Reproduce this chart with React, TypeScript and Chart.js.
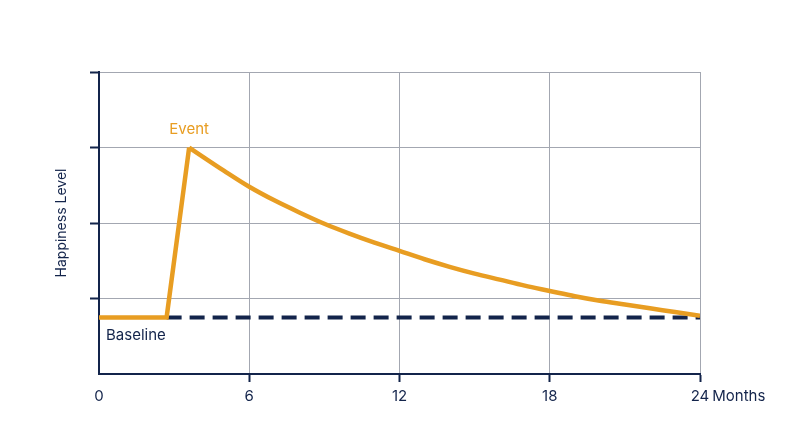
import React, { useEffect, useRef } from 'react';
import { Chart, registerables, Plugin } from 'chart.js';

Chart.register(...registerables);

// Happiness over time after an event
const riseMonths = [0, 2.7, 3.6];
const riseHappiness = [0.75, 0.75, 3.0];

const decayMonths = [3.6, 4, 5, 6, 7, 8, 9, 10, 11, 12, 13, 14, 15, 16, 17, 18, 19, 20, 21, 22, 23, 24];
const decayHappiness = [
  3.0, 2.91, 2.69, 2.48, 2.3, 2.14, 1.99, 1.86, 1.74, 1.63, 1.52, 1.42, 1.33, 1.25, 1.17, 1.1, 1.03,
  0.97, 0.92, 0.87, 0.82, 0.77,
];

const baselineMonths = [2.7, 24];
const baselineHappiness = [0.75, 0.75];

const xTicks = [0, 6, 12, 18, 24];
const xUnit = 'Months';
const yTitle = 'Happiness Level';
const eventLabel = 'Event';
const baselineLabel = 'Baseline';

const ORANGE = '#E89D22';
const NAVY = '#13244B';
const GRID = '#A3A7B1';
const FONT = 'Inter, "Noto Sans", sans-serif';

// labels "Event", "Baseline" and the "Months" unit after the last x tick
const labelsPlugin: Plugin<'line'> = {
  id: 'labels',
  afterDraw(chart) {
    const { ctx, scales } = chart;
    const x = scales.x;
    const y = scales.y;
    ctx.save();
    ctx.font = `15px ${FONT}`;
    ctx.textBaseline = 'middle';

    ctx.fillStyle = ORANGE;
    ctx.textAlign = 'center';
    ctx.fillText(eventLabel, x.getPixelForValue(decayMonths[0]), y.getPixelForValue(decayHappiness[0]) - 18);

    ctx.fillStyle = NAVY;
    ctx.textAlign = 'left';
    ctx.fillText(baselineLabel, x.getPixelForValue(0) + 7, y.getPixelForValue(baselineHappiness[0]) + 18);

    const last = xTicks[xTicks.length - 1];
    const lastW = ctx.measureText(String(last)).width;
    ctx.fillText(xUnit, x.getPixelForValue(last) + lastW / 2 + 3, y.bottom + 8 + 5 + 9);
    ctx.restore();
  },
};

export default function App() {
  const canvasRef = useRef<HTMLCanvasElement | null>(null);

  useEffect(() => {
    document.body.style.margin = '0';
    if (!canvasRef.current) return;

    const chart = new Chart(canvasRef.current, {
      type: 'line',
      data: {
        datasets: [
          {
            label: eventLabel,
            data: riseMonths.map((m, i) => ({ x: m, y: riseHappiness[i] })),
            borderColor: ORANGE,
            borderWidth: 4.5,
            pointRadius: 0,
            tension: 0,
            borderJoinStyle: 'miter',
            order: 0,
          },
          {
            label: eventLabel,
            data: decayMonths.map((m, i) => ({ x: m, y: decayHappiness[i] })),
            borderColor: ORANGE,
            borderWidth: 4.5,
            pointRadius: 0,
            cubicInterpolationMode: 'monotone',
            order: 0,
          },
          {
            label: baselineLabel,
            data: baselineMonths.map((m, i) => ({ x: m, y: baselineHappiness[i] })),
            borderColor: NAVY,
            borderWidth: 4,
            borderDash: [15, 8],
            pointRadius: 0,
            order: 1,
          },
        ],
      },
      options: {
        animation: false,
        responsive: true,
        maintainAspectRatio: false,
        layout: { padding: { left: 53.6, right: 100, top: 72, bottom: 37 } },
        plugins: {
          legend: { display: false },
          tooltip: { enabled: false },
        },
        scales: {
          x: {
            type: 'linear',
            min: 0,
            max: 24,
            afterBuildTicks: (scale) => {
              scale.ticks = xTicks.map((v) => ({ value: v }));
            },
            grid: {
              color: (c) => (c.tick && c.tick.value === 0 ? 'transparent' : GRID),
              lineWidth: 1,
              tickLength: 8,
              tickColor: (c) => (c.tick && c.tick.value === 0 ? 'transparent' : NAVY),
              tickWidth: 2,
            },
            border: { display: true, color: NAVY, width: 2 },
            ticks: {
              color: NAVY,
              padding: 5,
              maxRotation: 0,
              autoSkip: false,
              font: { family: FONT, size: 15 },
            },
          },
          y: {
            type: 'linear',
            min: 0,
            max: 4,
            ticks: { display: false, stepSize: 1 },
            grid: {
              color: (c) => (c.tick && c.tick.value === 0 ? 'transparent' : GRID),
              lineWidth: 1,
              tickLength: 9,
              tickColor: (c) => (c.tick && c.tick.value === 0 ? 'transparent' : NAVY),
              tickWidth: 2,
            },
            border: { display: true, color: NAVY, width: 2 },
            title: {
              display: true,
              text: yTitle,
              color: NAVY,
              font: { family: FONT, size: 14 },
              padding: { top: 0, bottom: 19.6 },
            },
          },
        },
      },
      plugins: [labelsPlugin],
    });

    return () => chart.destroy();
  }, []);

  return (
    <div style={{ width: 800, height: 447, position: 'relative', background: '#fff' }}>
      <canvas ref={canvasRef} />
    </div>
  );
}
